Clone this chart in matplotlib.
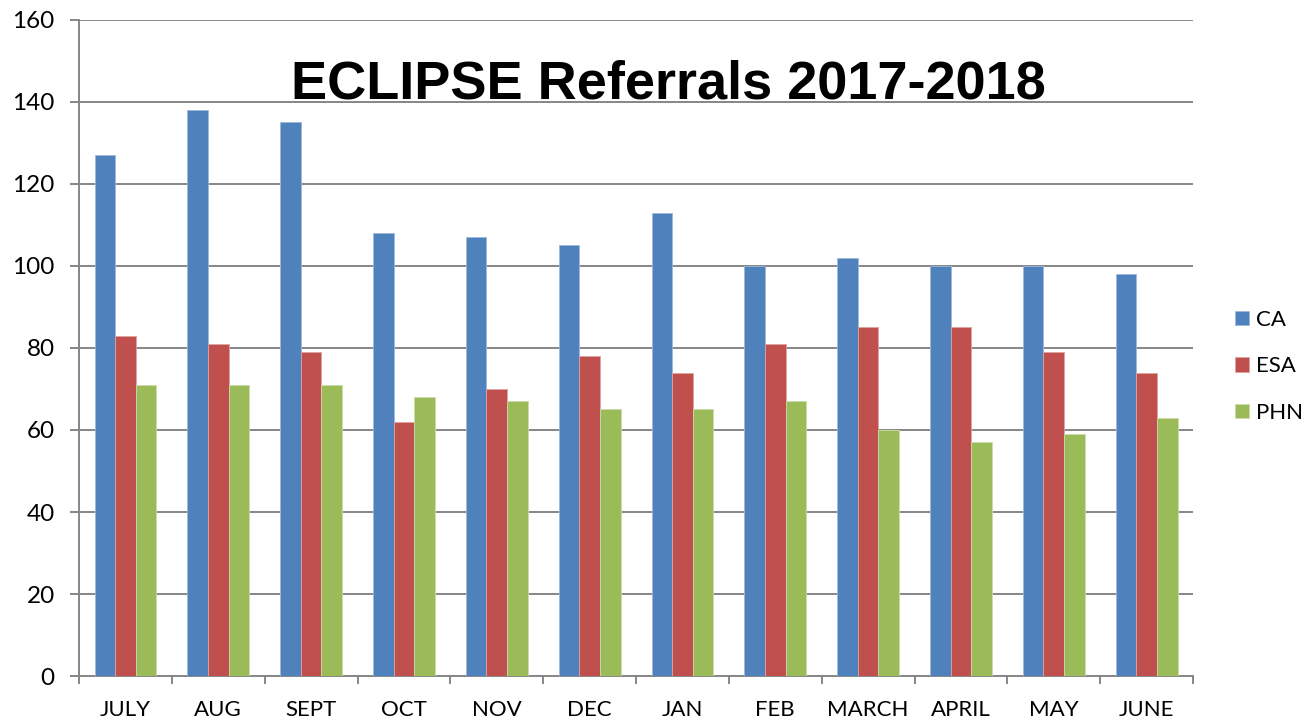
import numpy as np
import matplotlib
matplotlib.use("Agg")
import matplotlib.pyplot as plt

months = ["JULY", "AUG", "SEPT", "OCT", "NOV", "DEC", "JAN", "FEB",
          "MARCH", "APRIL", "MAY", "JUNE"]
ca = [127, 138, 135, 108, 107, 105, 113, 100, 102, 100, 100, 98]
esa = [83, 81, 79, 62, 70, 78, 74, 81, 85, 85, 79, 74]
phn = [71, 71, 71, 68, 67, 65, 65, 67, 60, 57, 59, 63]
series_names = ["CA", "ESA", "PHN"]
y_ticks = [0, 20, 40, 60, 80, 100, 120, 140, 160]

colors = ["#4F81BD", "#C0504D", "#9BBB59"]
edges = ["#9DB8DC", "#DFA3A1", "#CBDDAA"]
grid_col = "#868686"

plt.rcParams["font.family"] = ["Lato", "DejaVu Sans"]

fig = plt.figure(figsize=(13.06, 7.21), dpi=100)
ax = fig.add_axes([0.0605, 0.0624, 0.853, 0.9099])

x = np.arange(len(months))
w = 0.222
for i, vals in enumerate([ca, esa, phn]):
    ax.bar(x + (i - 1) * w, vals, width=w, color=colors[i],
           edgecolor=edges[i], linewidth=0.6, label=series_names[i], zorder=3)

ax.set_xlim(-0.5, len(months) - 0.5)
ax.set_ylim(0, 160)
ax.set_yticks(y_ticks)
ax.yaxis.grid(True, color=grid_col, linewidth=1.4, zorder=0)
ax.set_axisbelow(True)

# labels at the month centres, tick marks at the boundaries
ax.set_xticks(x)
ax.set_xticklabels(months)
ax.set_xticks(np.arange(len(months) + 1) - 0.5, minor=True)
ax.tick_params(axis="x", which="major", length=0, pad=17.5, labelsize=16)
ax.tick_params(axis="x", which="minor", length=5.5, width=1.4, color=grid_col)
ax.tick_params(axis="y", length=6.5, width=1.4, color=grid_col, pad=11,
               labelsize=17.5)

for side in ["top", "right"]:
    ax.spines[side].set_visible(False)
for side in ["left", "bottom"]:
    ax.spines[side].set_color(grid_col)
    ax.spines[side].set_linewidth(1.4)

fig.text(0.5115, 0.864, "ECLIPSE Referrals 2017-2018",
         family=["Liberation Sans", "DejaVu Sans"],
         fontweight="bold", fontsize=39, ha="center", va="baseline")

fig.legend(loc="center left", bbox_to_anchor=(0.9375, 0.492), frameon=False,
           fontsize=16, handlelength=0.63, handleheight=0.63,
           handletextpad=0.3, labelspacing=1.2, borderpad=0)

fig.savefig("out.png", dpi=100)
